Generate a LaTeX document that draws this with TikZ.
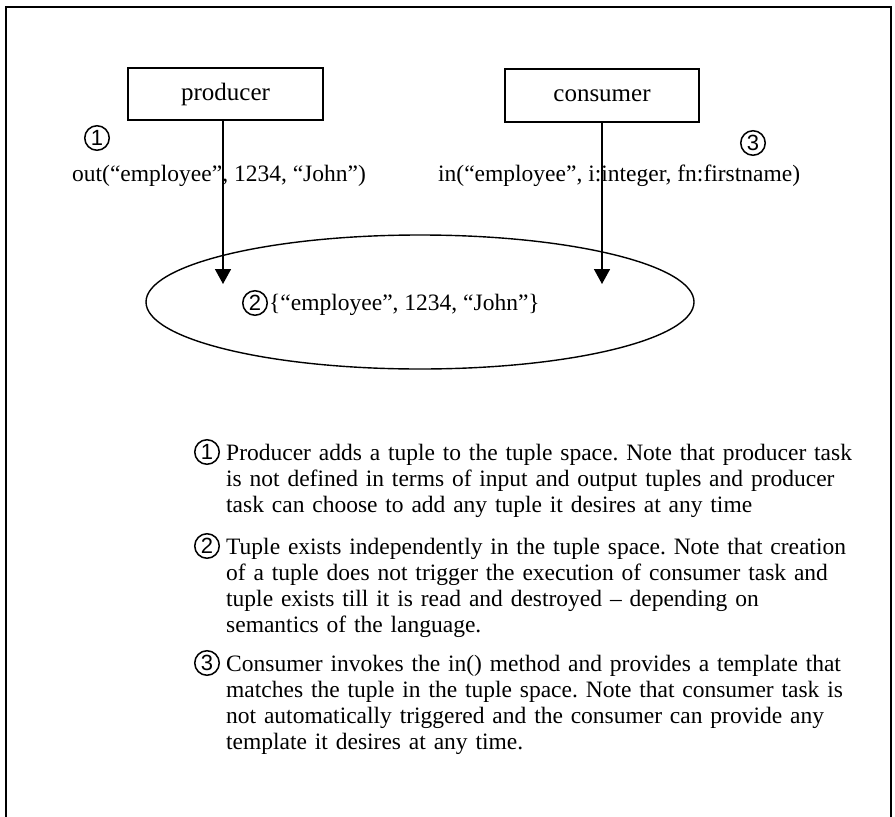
\documentclass[tikz,border=0pt]{standalone}
\usepackage{fontspec}
\setmainfont{Liberation Serif}
\newfontfamily\digitfont{Liberation Sans}
\usetikzlibrary{arrows.meta,shapes.geometric}
\frenchspacing
\begin{document}
\begin{tikzpicture}[x=1pt,y=-1pt,
  box/.style={draw, line width=1.6pt, minimum width=195pt, minimum height=52pt, inner sep=0pt, font=\fontsize{25}{28}\selectfont},
  num/.style={circle, draw, line width=1.5pt, minimum size=24.5pt, inner sep=0pt, font=\digitfont\fontsize{22}{22}\selectfont},
  lbl/.style={anchor=base west, inner sep=0pt, font=\fontsize{23.5}{26}\selectfont},
  note/.style={anchor=base west, inner sep=0pt, text width=680pt, align=left, font=\fontsize{23.5}{26.2}\selectfont},
  arr/.style={-{Triangle[width=16pt,length=15pt]}, line width=1.6pt},
  frame/.style={line width=1.8pt}]
\useasboundingbox (0,0) rectangle (895,817);
\draw[frame] (6,817) -- (6,7) -- (891,7) -- (891,817);

\node[box] (prod) at (225.5,94) {producer};
\node[box, minimum width=194pt, minimum height=53pt] (cons) at (602,95.5) {consumer};

\node[num] (n1) at (97,138) {1};
\node[lbl] (outtxt) at (72,181) {out(“employee”, 1234, “John”)};
\node[num] (n3) at (753,143) {3};
\node[lbl] (intxt) at (438,181) {in(“employee”, i:integer, fn:firstname)};

\node[draw, ellipse, line width=1.4pt, minimum width=548pt, minimum height=134pt, inner sep=0pt] (space) at (420,302) {};
\node[num] (n2) at (255,303) {2};
\node[lbl] (tuple) at (269,310) {\{“employee”, 1234, “John”\}};

\coordinate (t1) at (223,284);
\coordinate (t3) at (602,284);
\draw[arr] (prod.south -| t1) -- (t1);
\draw[arr] (cons.south) -- (t3);

\node[num] (m1) at (207,452) {1};
\node[note] (p1) at (226,460) {Producer adds a tuple to the tuple space. Note that producer task\\
is not defined in terms of input and output tuples and producer\\
task can choose to add any tuple it desires at any time};
\node[num] (m2) at (207,546) {2};
\node[note] (p2) at (226,554) {Tuple exists independently in the tuple space. Note that creation\\
of a tuple does not trigger the execution of consumer task and\\
tuple exists till it is read and destroyed – depending on\\
semantics of the language.};
\node[num] (m3) at (207,663) {3};
\node[note] (p3) at (226,671) {Consumer invokes the in() method and provides a template that\\
matches the tuple in the tuple space. Note that consumer task is\\
not automatically triggered and the consumer can provide any\\
template it desires at any time.};
\end{tikzpicture}
\end{document}
